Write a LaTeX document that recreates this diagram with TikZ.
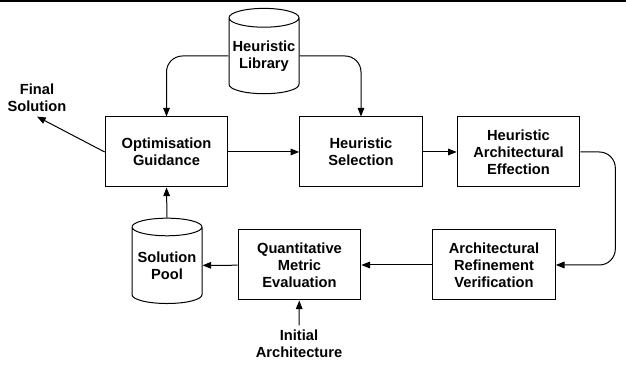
\documentclass[tikz,border=0pt]{standalone}
\usepackage{fontspec}
\setmainfont{Liberation Sans}
\usepackage{tikz}
\usetikzlibrary{shapes.geometric,arrows.meta}
\tikzstyle{txt}=[font=\fontsize{11}{12.75}\selectfont\bfseries, align=center]
\tikzstyle{blk}=[txt, draw, line width=0.75pt, minimum width=92pt, minimum height=52.5pt, inner sep=0pt]
\tikzstyle{db}=[txt, draw, line width=0.75pt, cylinder, shape border rotate=90, aspect=0.3, minimum width=52.5pt, minimum height=64pt, inner sep=0pt]
\tikzstyle{arr}=[line width=0.75pt, -{Triangle[length=6.5pt,width=5pt]}]

\begin{document}
\begin{tikzpicture}[x=0.75pt, y=-0.75pt]
\useasboundingbox (0,0) rectangle (626,366);
\draw [line width=1.5pt] (0,1)--(626,1);

\node [db] (lib) at (264,56) {Heuristic\\Library};
\node [db] (pool) at (167,265.5) {Solution\\Pool};

\node [blk] (guide) at (166.5,152) {Optimisation\\Guidance};
\node [blk] (sel) at (361,152) {Heuristic\\Selection};
\node [blk] (eff) at (518.5,152) {Heuristic\\Architectural\\Effection};
\node [blk] (eval) at (299.5,265) {Quantitative\\Metric\\Evaluation};
\node [blk] (verif) at (494,265) {Architectural\\Refinement\\Verification};

\node [txt] (final) at (37,98) {Final\\Solution};
\node [txt] (init) at (299,344) {Initial\\Architecture};

\draw [arr, rounded corners=12] (lib.west) -| (guide.north);
\draw [arr, rounded corners=12] (lib.east) -| (sel.north);
\draw [arr] (guide) -- (sel);
\draw [arr] (sel) -- (eff);
\draw [arr, rounded corners=12] (eff.east) -- ++(35,0) |- (verif.east);
\draw [arr] (verif) -- (eval);
\draw [arr] (eval) -- (pool);
\draw [arr] (pool.north) -- (guide.south);
\draw [arr] (init) -- (eval);
\draw [arr] (guide.west) -- (final.south);

\end{tikzpicture}
\end{document}
